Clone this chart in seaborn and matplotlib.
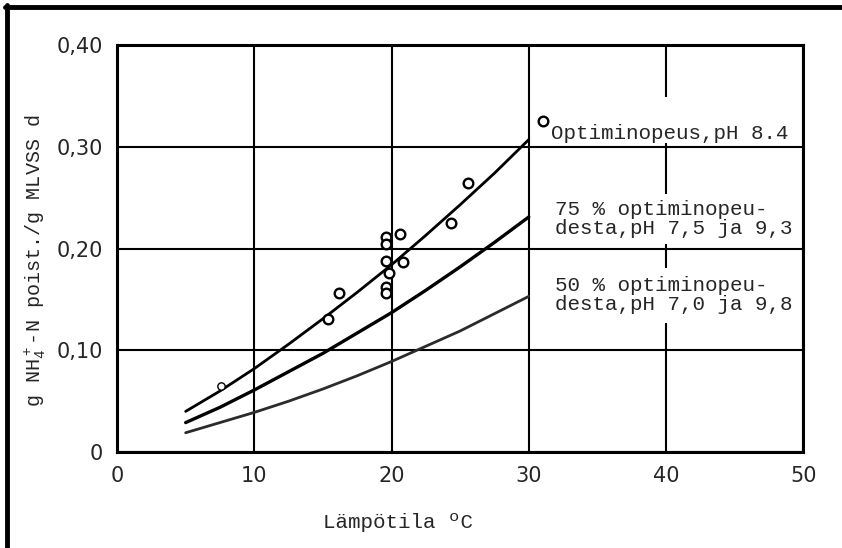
import pandas as pd
import matplotlib.pyplot as plt
import seaborn as sns
from matplotlib.lines import Line2D

# Lämpötila (°C) ja nitrifikaationopeus, luettu kuvasta
lampotila = [5, 7.5, 10, 12.5, 15, 17.5, 20, 22.5, 25, 27.5, 30]
optimi_84 = [0.040, 0.060, 0.082, 0.106, 0.131, 0.157, 0.184, 0.213, 0.243, 0.274, 0.307]
opt75 = [0.029, 0.044, 0.061, 0.079, 0.097, 0.117, 0.137, 0.159, 0.182, 0.206, 0.231]
opt50 = [0.019, 0.029, 0.039, 0.050, 0.062, 0.075, 0.089, 0.104, 0.119, 0.136, 0.153]

# Mittauspisteet
mitt_x = [15.4, 16.2, 19.6, 19.6, 19.8, 19.6, 20.8, 19.6, 19.6, 20.6, 24.3, 25.6, 31.0]
mitt_y = [0.131, 0.156, 0.162, 0.156, 0.176, 0.188, 0.187, 0.211, 0.204, 0.214, 0.225, 0.264, 0.325]
pieni_x = [7.6]
pieni_y = [0.065]

x_ticks = [0, 10, 20, 30, 40, 50]
y_ticks = [0, 0.10, 0.20, 0.30, 0.40]
y_tick_labels = ['0', '0,10', '0,20', '0,30', '0,40']

kayrat = pd.DataFrame({'T': lampotila, 'opt': optimi_84, 'p75': opt75, 'p50': opt50})

sns.set_style('white')
plt.rcParams['font.family'] = ['Liberation Mono', 'DejaVu Sans']
plt.rcParams['mathtext.default'] = 'regular'

fig = plt.figure(figsize=(8.42, 5.48), dpi=100)
ax = fig.add_axes([0.139, 0.175, 0.815, 0.743])

# Käyrät
sns.lineplot(data=kayrat, x='T', y='opt', color='black', lw=2.0, ax=ax, zorder=3)
sns.lineplot(data=kayrat, x='T', y='p75', color='black', lw=2.4, ax=ax, zorder=3)
sns.lineplot(data=kayrat, x='T', y='p50', color='#2b2b2b', lw=2.0, ax=ax, zorder=3)

# Pisteet
sns.scatterplot(x=mitt_x, y=mitt_y, color='white', edgecolor='black', linewidth=1.7,
                s=48, ax=ax, zorder=5)
sns.scatterplot(x=pieni_x, y=pieni_y, color='white', edgecolor='black', linewidth=1.0,
                s=28, ax=ax, zorder=5)

ax.set_xlim(0, 50)
ax.set_ylim(0, 0.40)
ax.set_xticks(x_ticks)
ax.set_yticks(y_ticks)
ax.set_yticklabels(y_tick_labels)
for lab in ax.get_xticklabels() + ax.get_yticklabels():
    lab.set_family('DejaVu Sans')
ax.tick_params(axis='x', length=0, pad=10, labelsize=15)
ax.tick_params(axis='y', length=7, width=1.5, color='black', direction='out', pad=3, labelsize=15)
ax.grid(True, color='black', lw=1.5)
ax.set_axisbelow(True)
for s in ax.spines.values():
    s.set_visible(True)
    s.set_color('black')
    s.set_linewidth(2.2)
    s.set_zorder(4)

ax.set_xlabel('Lämpötila ºC', fontsize=15)
ax.xaxis.set_label_coords(0.41, -0.15)
ax.set_ylabel('g NH$_4^+$-N poist./g MLVSS d', fontsize=14.5)
ax.yaxis.set_label_coords(-0.10, 0.47)

# Käyrien selitteet
ax.text(31.6, 0.304, '\nOptiminopeus,pH 8.4', fontsize=15, ha='left', va='bottom',
        bbox=dict(facecolor='white', edgecolor='none', pad=0), zorder=2, linespacing=1.5)
ax.text(31.9, 0.229, '75 % optiminopeu-\ndesta,pH 7,5 ja 9,3', fontsize=15, ha='left',
        va='center', bbox=dict(facecolor='white', edgecolor='none', pad=4), zorder=2,
        linespacing=1.0)
ax.text(31.9, 0.154, '50 % optiminopeu-\ndesta,pH 7,0 ja 9,8', fontsize=15, ha='left',
        va='center', bbox=dict(facecolor='white', edgecolor='none', pad=6), zorder=2,
        linespacing=1.0)

# Skannatun sivun reunaviivat
fig.add_artist(Line2D([0.008, 0.008], [0, 0.99], transform=fig.transFigure, color='black', lw=3.5))
fig.add_artist(Line2D([0.006, 1.0], [0.987, 0.987], transform=fig.transFigure, color='black', lw=3.5))

plt.savefig('out.png', dpi=100)
plt.close()
